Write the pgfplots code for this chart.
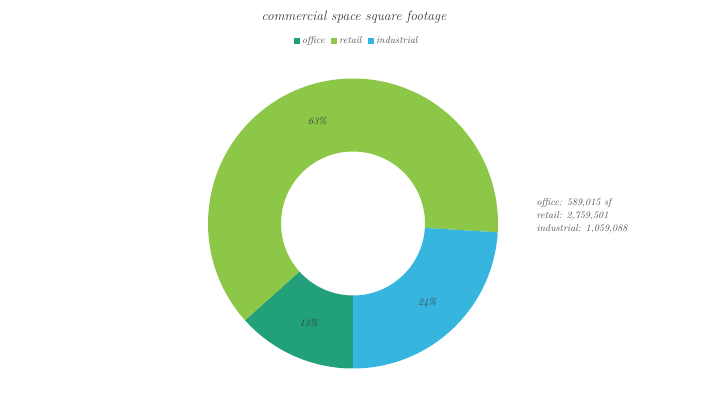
\documentclass[border=0pt]{standalone}
\usepackage{pgfplots}
\pgfplotsset{compat=1.18}
\usepackage{pgfplotstable}
\definecolor{coffice}{HTML}{21A079}
\definecolor{cretail}{HTML}{8DC747}
\definecolor{cindustrial}{HTML}{36B6DE}
\definecolor{txt}{HTML}{3A3A3A}
\definecolor{txtb}{HTML}{505050}

\pgfplotstableread{
name value
office 589015
retail 2759501
industrial 1059088
}\slices
\pgfplotstablegetelem{0}{value}\of\slices\let\vA\pgfplotsretval
\pgfplotstablegetelem{1}{value}\of\slices\let\vB\pgfplotsretval
\pgfplotstablegetelem{2}{value}\of\slices\let\vC\pgfplotsretval
\pgfkeys{/pgf/fpu=true,/pgf/fpu/output format=fixed}
\pgfmathsetmacro\tot{\vA+\vB+\vC}
\pgfmathsetmacro\aA{270}
\pgfmathsetmacro\aB{270-\vA/\tot*360}
\pgfmathsetmacro\aC{270-(\vA+\vB)/\tot*360}
\pgfmathsetmacro\aD{270-(\vA+\vB+\vC)/\tot*360}
\pgfmathsetmacro\pA{100*\vA/\tot}
\pgfmathsetmacro\pB{100*\vB/\tot}
\pgfmathsetmacro\pC{100*\vC/\tot}
\pgfkeys{/pgf/fpu=false}
\pgfmathtruncatemacro\qA{round(\pA)}
\pgfmathtruncatemacro\qB{round(\pB)}
\pgfmathtruncatemacro\qC{round(\pC)}

\pgfdeclareplotmark{donutslice}{%
  \pgfmathsetmacro\wM{(\wA+\wB)/2}%
  \pgfsetfillcolor{\wC}%
  \pgfpathmoveto{\pgfpointpolar{\wA}{145bp}}%
  \pgfpatharc{\wA}{\wB}{145bp}%
  \pgfpathlineto{\pgfpointpolar{\wB}{72bp}}%
  \pgfpatharc{\wB}{\wA}{72bp}%
  \pgfpathclose
  \pgfusepathqfill
  \pgftext[at={\pgfpointpolar{\wM}{108.5bp}}]{\color{txt}\fontsize{10}{11}\selectfont\itshape\wP\%}%
}
\pgfplotsset{slice/.style n args={4}{only marks, mark=donutslice, forget plot,
  /utils/exec={\def\wA{#1}\def\wB{#2}\def\wP{#3}\def\wC{#4}}}}

\begin{document}
\begin{tikzpicture}
\begin{axis}[
  width=709bp, height=399bp, scale only axis,
  xmin=0, xmax=709, ymin=0, ymax=399,
  axis lines=none, clip=false,
  legend columns=3,
  legend style={at={(axis cs:357,358)}, anchor=center, draw=none, fill=none,
    font=\fontsize{10}{11}\selectfont\itshape, text=txtb,
    nodes={inner xsep=2.5bp, inner ysep=1bp},
    /tikz/every even column/.append style={column sep=4bp}},
  legend image code/.code={\fill[#1] (0bp,-2.8bp) rectangle (5.6bp,2.8bp);},
]
\addplot[slice={\aA}{\aB}{\qA}{coffice}] coordinates {(353,175.5)};
\addplot[slice={\aB}{\aC}{\qB}{cretail}] coordinates {(353,175.5)};
\addplot[slice={\aC}{\aD}{\qC}{cindustrial}] coordinates {(353,175.5)};
\addlegendimage{fill=coffice, draw=none}
\addlegendentry{office}
\addlegendimage{fill=cretail, draw=none}
\addlegendentry{retail}
\addlegendimage{fill=cindustrial, draw=none}
\addlegendentry{industrial}
\node[font=\fontsize{13.5}{15}\selectfont\itshape, text=txt] at (axis cs:354,382) {commercial space square footage};
\node[anchor=west, align=left, font=\fontsize{10}{13}\selectfont\itshape, text=txtb] at (axis cs:533,183) {office: 589,015 sf\\retail: 2,759,501\\industrial: 1,059,088};
\end{axis}
\pgfresetboundingbox
\useasboundingbox (current axis.south west) rectangle (current axis.north east);
\end{tikzpicture}
\end{document}
